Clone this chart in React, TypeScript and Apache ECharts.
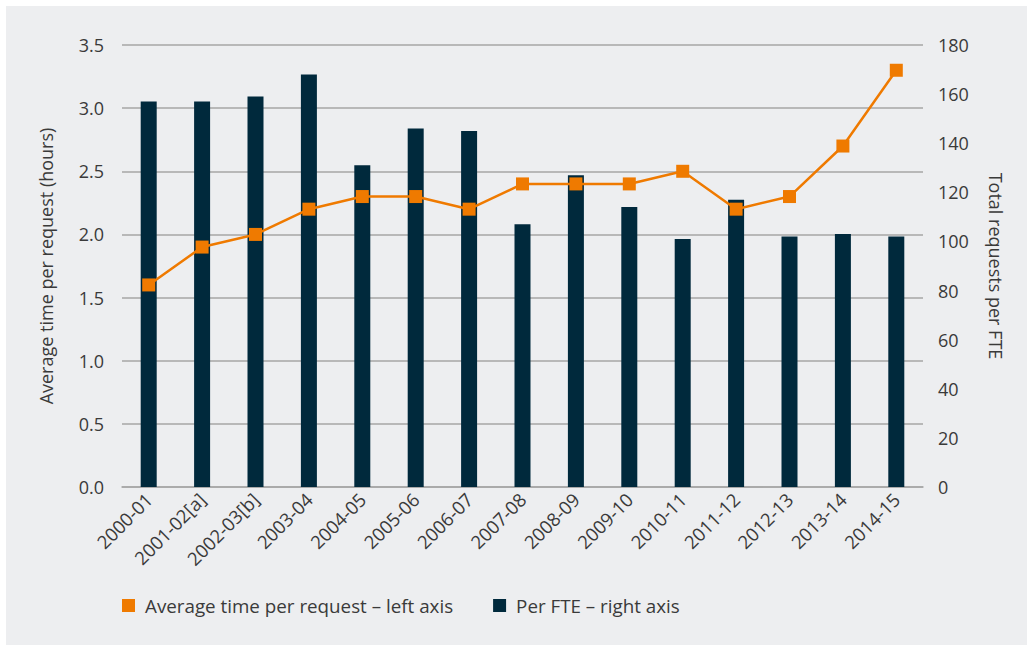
import React, { useEffect, useRef } from "react";
import * as echarts from "echarts";

const categories = [
  "2000-01", "2001-02[a]", "2002-03[b]", "2003-04", "2004-05", "2005-06", "2006-07",
  "2007-08", "2008-09", "2009-10", "2010-11", "2011-12", "2012-13", "2013-14", "2014-15",
];
const avgTimeHours = [1.6, 1.9, 2.0, 2.2, 2.3, 2.3, 2.2, 2.4, 2.4, 2.4, 2.5, 2.2, 2.3, 2.7, 3.3];
const perFTE = [157, 157, 159, 168, 131, 146, 145, 107, 127, 114, 101, 117, 102, 103, 102];

const lineName = "Average time per request \u2013 left axis";
const barName = "Per FTE \u2013 right axis";

const FONT = "'Open Sans', 'Noto Sans', sans-serif";
const TEXT = "#3a3a3a";
const GRID = "#a6a6a6";

export default function App() {
  const ref = useRef<HTMLDivElement>(null);

  useEffect(() => {
    document.body.style.margin = "0";
    if (!ref.current) return;
    const chart = echarts.init(ref.current, null, { renderer: "svg" });
    chart.setOption({
      animation: false,
      backgroundColor: "transparent",
      textStyle: { fontFamily: FONT },
      grid: { left: 116, right: 104, top: 39, bottom: 158, containLabel: false },
      legend: {
        left: 116,
        top: 590,
        padding: 0,
        icon: "rect",
        itemWidth: 13,
        itemHeight: 13,
        itemGap: 40,
        textStyle: { fontFamily: FONT, fontSize: 18.8, color: TEXT, padding: [0, 0, 0, 5] },
        data: [
          { name: lineName, itemStyle: { color: "#ef7a00" } },
          { name: barName, itemStyle: { color: "#00293c" } },
        ],
      },
      xAxis: {
        type: "category",
        data: categories,
        axisLine: { show: true, lineStyle: { color: GRID, width: 1.5 } },
        axisTick: { show: false },
        axisLabel: {
          rotate: 45,
          interval: 0,
          fontSize: 18.5,
          color: TEXT,
          fontFamily: FONT,
          margin: 9,
        },
      },
      yAxis: [
        {
          type: "value",
          min: 0,
          max: 3.5,
          interval: 0.5,
          position: "left",
          name: "Average time per request (hours)",
          nameLocation: "middle",
          nameRotate: 90,
          nameGap: 67,
          nameTextStyle: { fontSize: 18, color: TEXT, fontFamily: FONT },
          axisLine: { show: false },
          axisTick: { show: false },
          axisLabel: {
            fontSize: 18,
            color: TEXT,
            fontFamily: FONT,
            margin: 18,
            formatter: (v: number) => v.toFixed(1),
          },
          splitLine: { show: true, lineStyle: { color: GRID, width: 1.5 } },
        },
        {
          type: "value",
          min: 0,
          max: 180,
          interval: 20,
          position: "right",
          name: "Total requests per FTE",
          nameLocation: "middle",
          nameRotate: -90,
          nameGap: 64,
          nameTextStyle: { fontSize: 18, color: TEXT, fontFamily: FONT },
          axisLine: { show: false },
          axisTick: { show: false },
          axisLabel: { fontSize: 18, color: TEXT, fontFamily: FONT, margin: 15 },
          splitLine: { show: false },
        },
      ],
      series: [
        {
          name: barName,
          type: "bar",
          yAxisIndex: 1,
          data: perFTE,
          barWidth: 16,
          itemStyle: { color: "#00293c" },
          z: 1,
        },
        {
          name: lineName,
          type: "line",
          yAxisIndex: 0,
          data: avgTimeHours,
          symbol: "rect",
          symbolSize: 13,
          lineStyle: { color: "#ef7a00", width: 2.5 },
          itemStyle: { color: "#ef7a00" },
          z: 3,
        },
      ],
    });
    return () => chart.dispose();
  }, []);

  return (
    <div style={{ width: 1032, height: 645, background: "#ffffff", position: "relative" }}>
      <div
        style={{
          position: "absolute",
          left: 6,
          top: 6,
          width: 1021,
          height: 639,
          background: "#edeef0",
        }}
      >
        <div ref={ref} style={{ width: 1021, height: 639 }} />
      </div>
    </div>
  );
}
